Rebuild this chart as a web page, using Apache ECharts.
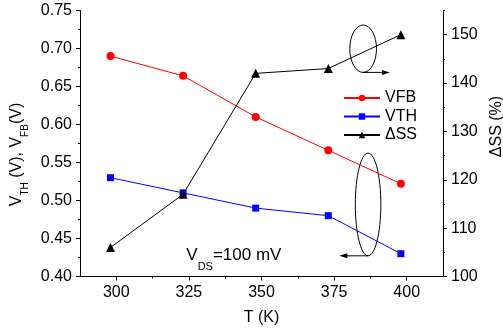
<!DOCTYPE html>
<html>
<head>
<meta charset="utf-8">
<script src="https://cdn.jsdelivr.net/npm/echarts@6/dist/echarts.min.js"></script>
<style>
html,body{margin:0;padding:0;background:#fff;}
#c{width:503px;height:328px;}
</style>
</head>
<body>
<div id="c"></div>
<script>
// ---- data ----
const T = [298, 323, 348, 373, 398];
const VFB = [0.690, 0.664, 0.610, 0.566, 0.522];
const VTH = [0.530, 0.510, 0.490, 0.480, 0.430];
const dSS = [106, 117, 142, 143, 150];
const xTicks = [300, 325, 350, 375, 400];
const xMinorTicks = [312.5, 337.5, 362.5, 387.5];
const yRightTicks = [100, 110, 120, 130, 140, 150];
const yRightMinorTicks = [105, 115, 125, 135, 145, 155];

const FONT = '"Liberation Sans", Arial, sans-serif';
const chart = echarts.init(document.getElementById('c'), null, {renderer: 'canvas'});

const axisLineStyle = {show: true, lineStyle: {color: '#000', width: 1}};
const pair = (ys) => T.map((t, i) => [t, ys[i]]);

chart.setOption({
  animation: false,
  backgroundColor: '#fff',
  textStyle: {fontFamily: FONT},
  grid: {left: 80, right: 60, top: 10.5, bottom: 51.5, containLabel: false, outerBoundsMode: 'none'},
  legend: {
    data: ['VFB', 'VTH', 'ΔSS'],
    orient: 'vertical',
    left: 338, top: 85, padding: 5,
    itemWidth: 36, itemHeight: 8, itemGap: 2.5,
    textStyle: {fontFamily: FONT, fontSize: 16, color: '#000'}
  },
  xAxis: [{
    type: 'value', min: 287.5, max: 412.5,
    name: 'T (K)', nameLocation: 'middle', nameGap: 33,
    nameTextStyle: {fontFamily: FONT, fontSize: 16, color: '#000'},
    axisLine: axisLineStyle,
    axisTick: {show: true, length: 4, customValues: xTicks, lineStyle: {color: '#000'}},
    axisLabel: {customValues: xTicks, fontFamily: FONT, fontSize: 16, color: '#000', margin: 8},
    splitLine: {show: false}
  }, {
    type: 'value', min: 287.5, max: 412.5, position: 'bottom',
    axisLine: {show: false},
    axisTick: {show: true, length: 2, customValues: xMinorTicks, lineStyle: {color: '#000'}},
    axisLabel: {show: false},
    splitLine: {show: false}
  }],
  yAxis: [{
    type: 'value', min: 0.40, max: 0.75, interval: 0.05, position: 'left',
    name: '{m|V}{s|TH}{m| (V), V}{s|FB}{m|(V)}',
    nameLocation: 'middle', nameGap: 45, nameRotate: 90,
    nameTextStyle: {
      fontFamily: FONT, color: '#000', padding: [0, 22, 0, 0],
      rich: {
        m: {fontFamily: FONT, fontSize: 16, color: '#000', lineHeight: 18},
        s: {fontFamily: FONT, fontSize: 10, color: '#000', lineHeight: 10, padding: [16, 0, 0, 0]}
      }
    },
    axisLine: axisLineStyle,
    axisTick: {show: true, length: 4, lineStyle: {color: '#000'}},
    minorTick: {show: true, splitNumber: 2, length: 2, lineStyle: {color: '#000'}},
    axisLabel: {fontFamily: FONT, fontSize: 16, color: '#000', margin: 8,
      formatter: v => v.toFixed(2)},
    splitLine: {show: false}
  }, {
    type: 'value', min: 100, max: 155, position: 'right',
    name: 'ΔSS (%)', nameLocation: 'middle', nameGap: 42, nameRotate: 90,
    nameTextStyle: {fontFamily: FONT, fontSize: 16, color: '#000', padding: [0, 0, 0, 34]},
    axisLine: axisLineStyle,
    axisTick: {show: true, length: 4, customValues: yRightTicks, lineStyle: {color: '#000'}},
    axisLabel: {customValues: yRightTicks, fontFamily: FONT, fontSize: 16, color: '#000', margin: 8},
    splitLine: {show: false}
  }, {
    type: 'value', min: 100, max: 155, position: 'right',
    axisLine: {show: false},
    axisTick: {show: true, length: 2, customValues: yRightMinorTicks, lineStyle: {color: '#000'}},
    axisLabel: {show: false},
    splitLine: {show: false}
  }],
  series: [{
    name: 'VFB', type: 'line', xAxisIndex: 0, yAxisIndex: 0,
    data: pair(VFB), symbol: 'circle', symbolSize: 8,
    itemStyle: {color: '#ff0000'}, lineStyle: {color: '#ff0000', width: 1}
  }, {
    name: 'VTH', type: 'line', xAxisIndex: 0, yAxisIndex: 0,
    data: pair(VTH), symbol: 'rect', symbolSize: 7,
    itemStyle: {color: '#0000ff'}, lineStyle: {color: '#0000ff', width: 1}
  }, {
    name: 'ΔSS', type: 'line', xAxisIndex: 0, yAxisIndex: 1,
    data: pair(dSS), symbol: 'triangle', symbolSize: 9,
    itemStyle: {color: '#000'}, lineStyle: {color: '#000', width: 1}
  }]
});

// ---- annotations (placed in data coordinates) ----
function px(yi, t, v) { return chart.convertToPixel({xAxisIndex: 0, yAxisIndex: yi}, [t, v]); }
function arrow(p0, p1) {
  const dir = p1[0] > p0[0] ? 1 : -1;
  const L = 8, W = 2.5;
  return [
    {type: 'line', shape: {x1: p0[0], y1: p0[1], x2: p1[0] - dir * L * 0.6, y2: p1[1]},
      style: {stroke: '#000', lineWidth: 1}},
    {type: 'polygon', shape: {points: [[p1[0], p1[1]], [p1[0] - dir * L, p1[1] - W], [p1[0] - dir * L, p1[1] + W]]},
      style: {fill: '#000'}}
  ];
}
const g = [];
// ellipse around ΔSS curve, arrow to right axis
{
  const c = px(1, 385, 147.1), e = px(1, 389.6, 142.2);
  g.push({type: 'ellipse', shape: {cx: c[0], cy: c[1], rx: e[0] - c[0], ry: e[1] - c[1]},
    style: {fill: null, stroke: '#000', lineWidth: 1}});
  g.push(...arrow(px(1, 385, 142.2), px(1, 394.2, 142.2)));
}
// ellipse around VFB/VTH curves, arrow to left axis
{
  const c = px(0, 386.7, 0.4948), e = px(0, 391.1, 0.4272);
  g.push({type: 'ellipse', shape: {cx: c[0], cy: c[1], rx: e[0] - c[0], ry: e[1] - c[1]},
    style: {fill: null, stroke: '#000', lineWidth: 1}});
  g.push(...arrow(px(0, 386.7, 0.4272), px(0, 376.8, 0.4272)));
}
// V_DS label
{
  const p = px(0, 324.1, 0.4275);
  g.push({type: 'text', x: p[0], y: p[1], style: {
    text: '{m|V}{s|DS}{m|=100 mV}', align: 'left', verticalAlign: 'middle',
    fill: '#000', font: '17px ' + FONT,
    rich: {
      m: {fontFamily: FONT, fontSize: 17, fill: '#000', lineHeight: 18},
      s: {fontFamily: FONT, fontSize: 11, fill: '#000', lineHeight: 10, padding: [22, 0, 0, 0]}
    }
  }});
}
chart.setOption({graphic: g});
</script>
</body>
</html>
